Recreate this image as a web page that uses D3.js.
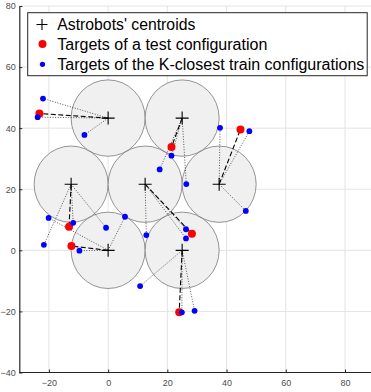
<!DOCTYPE html>
<html>
<head>
<meta charset="utf-8">
<script src="https://cdn.jsdelivr.net/npm/d3@7"></script>
<style>
  body { margin: 0; background: #fff; overflow: hidden; }
  svg { display: block; font-family: "Liberation Sans", Arial, sans-serif; }
</style>
</head>
<body>
<div id="chart"></div>
<script>
// astrobot centroids (hex grid, pitch 25)
var centroids = [
  [0, 0], [25, 0],
  [-12.5, 21.65], [12.5, 21.65], [37.5, 21.65],
  [0, 43.3], [25, 43.3]
];
var robotRadius = 12.5;

// one test-configuration target per robot (same order as centroids)
var testTargets = [
  [-12.4, 1.4], [24.0, -20.3],
  [-13.2, 7.7], [28.3, 5.4], [44.7, 39.6],
  [-23.2, 44.8], [21.4, 33.8]
];

// K = 3 closest train configuration targets per robot
var trainTargets = [
  [[-20.1, 10.6], [5.7, 11.0], [-9.7, -0.1]],
  [[10.8, -11.7], [24.9, -20.3], [29.2, -19.8]],
  [[-21.7, 1.8], [-11.8, 9.0], [-0.7, 7.4]],
  [[12.9, 5.0], [26.3, 6.9], [26.3, 3.9]],
  [[37.8, 40.1], [47.7, 39.0], [46.5, 12.9]],
  [[-22.0, 49.7], [-23.8, 43.6], [-8.0, 37.8]],
  [[21.4, 31.0], [17.4, 26.5], [26.4, 21.7]]
];

var xTicks = [-20, 0, 20, 40, 60, 80];
var yTicks = [-40, -20, 0, 20, 40, 60, 80];
var legendLabels = [
  "Astrobots' centroids",
  "Targets of a test configuration",
  "Targets of the K-closest train configurations"
];

var svgWidth = 371;
var svgHeight = 392;

var svg = d3.select("#chart")
  .append("svg")
  .attr("width", svgWidth)
  .attr("height", svgHeight);

var x = d3.scaleLinear().domain([-30, 90]).range([19.3, 374.6]);
var y = d3.scaleLinear().domain([-40, 80]).range([372.5, 6]);

// grid
var grid = svg.append("g");
grid.selectAll(".gx")
  .data(xTicks)
  .enter()
  .append("line")
  .attr("x1", d => x(d)).attr("x2", d => x(d))
  .attr("y1", y(80)).attr("y2", y(-40))
  .attr("stroke", "#e3e3e3")
  .attr("stroke-width", 1);
grid.selectAll(".gy")
  .data(yTicks)
  .enter()
  .append("line")
  .attr("x1", x(-30)).attr("x2", svgWidth)
  .attr("y1", d => y(d)).attr("y2", d => y(d))
  .attr("stroke", "#e3e3e3")
  .attr("stroke-width", 1);

// robot workspaces
var rx = x(robotRadius) - x(0);
var ry = y(0) - y(robotRadius);
svg.append("g").selectAll("ellipse")
  .data(centroids)
  .enter()
  .append("ellipse")
  .attr("cx", d => x(d[0]))
  .attr("cy", d => y(d[1]))
  .attr("rx", rx)
  .attr("ry", ry)
  .attr("fill", "#f0f0f0")
  .attr("stroke", "#7a7a7a")
  .attr("stroke-width", 0.8);

// dotted links to train targets
var links = [];
trainTargets.forEach(function(list, i) {
  list.forEach(function(t) { links.push([centroids[i], t]); });
});
svg.append("g").selectAll("line")
  .data(links)
  .enter()
  .append("line")
  .attr("x1", d => x(d[0][0])).attr("y1", d => y(d[0][1]))
  .attr("x2", d => x(d[1][0])).attr("y2", d => y(d[1][1]))
  .attr("stroke", "#444")
  .attr("stroke-width", 0.9)
  .attr("stroke-dasharray", "1,1.6");

// dashed links to test targets
svg.append("g").selectAll("line")
  .data(testTargets)
  .enter()
  .append("line")
  .attr("x1", (d, i) => x(centroids[i][0])).attr("y1", (d, i) => y(centroids[i][1]))
  .attr("x2", d => x(d[0])).attr("y2", d => y(d[1]))
  .attr("stroke", "#000")
  .attr("stroke-width", 1.1)
  .attr("stroke-dasharray", "5,2.5");

// centroid markers
function drawPlus(g, cx, cy, h) {
  g.append("path")
    .attr("d", `M${cx - h},${cy}H${cx + h}M${cx},${cy - h}V${cy + h}`)
    .attr("stroke", "#000")
    .attr("stroke-width", 1.1)
    .attr("fill", "none");
}
var markers = svg.append("g");
centroids.forEach(function(c) { drawPlus(markers, x(c[0]), y(c[1]), 6.5); });

// red test targets
svg.append("g").selectAll("circle")
  .data(testTargets)
  .enter()
  .append("circle")
  .attr("cx", d => x(d[0]))
  .attr("cy", d => y(d[1]))
  .attr("r", 4)
  .attr("fill", "#ff0000");

// blue train targets
svg.append("g").selectAll("circle")
  .data(d3.merge(trainTargets))
  .enter()
  .append("circle")
  .attr("cx", d => x(d[0]))
  .attr("cy", d => y(d[1]))
  .attr("r", 2.9)
  .attr("fill", "#0000ff");

// axes (MATLAB style, ticks inward, no box)
var xAxis = d3.axisBottom(x).tickValues(xTicks).tickSizeInner(-3).tickSizeOuter(0).tickPadding(7);
var yAxis = d3.axisLeft(y).tickValues(yTicks).tickSizeInner(-3).tickSizeOuter(0).tickPadding(3.5);

var gx = svg.append("g")
  .attr("transform", `translate(0, ${y(-40)})`)
  .call(xAxis);
var gy = svg.append("g")
  .attr("transform", `translate(${x(-30)}, 0)`)
  .call(yAxis);

[gx, gy].forEach(function(g) {
  g.select(".domain").attr("stroke", "#262626").attr("stroke-width", 1.2);
  g.selectAll(".tick line").attr("stroke", "#262626");
  g.selectAll(".tick text")
    .attr("fill", "#4d4d4d")
    .style("font-size", "9px")
    .style("font-family", "'Liberation Sans', Arial, sans-serif");
});
gx.select(".domain").attr("d", `M${x(-30)},0H${svgWidth}`);

// legend
var legend = svg.append("g");
legend.append("rect")
  .attr("x", 27.7).attr("y", 12.7)
  .attr("width", 339.5).attr("height", 63)
  .attr("fill", "#fff")
  .attr("stroke", "#262626")
  .attr("stroke-width", 1);

var rowY = [24.5, 44, 64.3];
var rowLen = [138, 210, 307];
drawPlus(legend, 42, rowY[0], 5.5);
legend.append("circle").attr("cx", 42.5).attr("cy", rowY[1]).attr("r", 4).attr("fill", "#ff0000");
legend.append("circle").attr("cx", 42.5).attr("cy", rowY[2]).attr("r", 2.6).attr("fill", "#0000ff");

legend.selectAll("text")
  .data(legendLabels)
  .enter()
  .append("text")
  .attr("x", 57.3)
  .attr("y", (d, i) => rowY[i] + 5.5)
  .attr("textLength", (d, i) => rowLen[i])
  .attr("lengthAdjust", "spacingAndGlyphs")
  .style("font-size", "16px")
  .attr("fill", "#000")
  .text(d => d);
</script>
</body>
</html>
